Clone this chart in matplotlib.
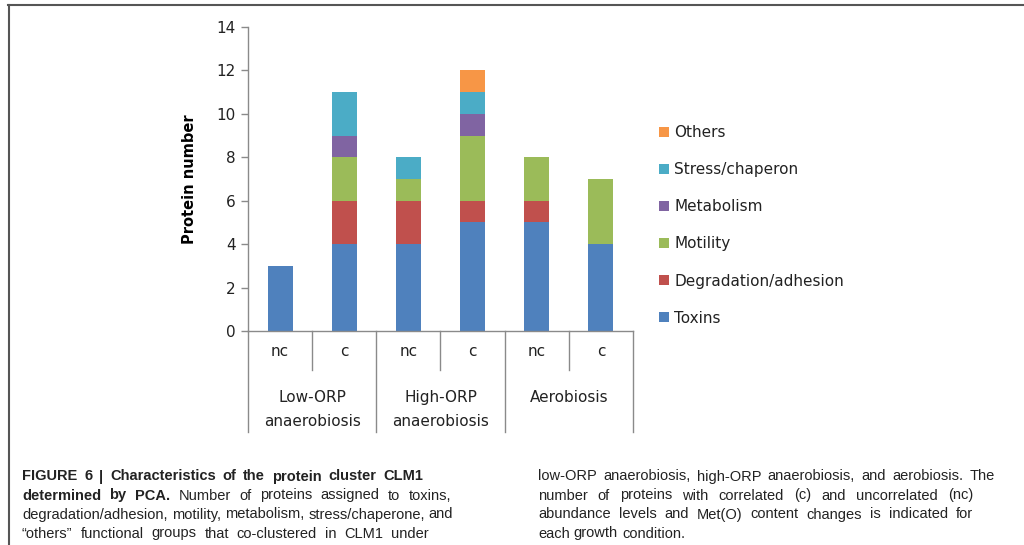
import matplotlib
matplotlib.use("Agg")
import matplotlib.pyplot as plt
import matplotlib.transforms as mtransforms
from matplotlib import font_manager
from matplotlib.lines import Line2D
import numpy as np

# data
bar_labels = ["nc", "c", "nc", "c", "nc", "c"]
group_labels = ["Low-ORP\nanaerobiosis", "High-ORP\nanaerobiosis", "Aerobiosis"]
series_names = ["Toxins", "Degradation/adhesion", "Motility", "Metabolism",
                "Stress/chaperon", "Others"]
toxins = [3, 4, 4, 5, 5, 4]
degradation = [0, 2, 2, 1, 1, 0]
motility = [0, 2, 1, 3, 2, 3]
metabolism = [0, 1, 0, 1, 0, 0]
stress = [0, 2, 1, 1, 0, 0]
others = [0, 0, 0, 1, 0, 0]
colors = ["#4F81BD", "#C0504D", "#9BBB59", "#8064A2", "#4BACC6", "#F79646"]

W, H = 1024, 545
fig = plt.figure(figsize=(W / 100, H / 100), dpi=100)
ax = fig.add_axes([248 / W, 1 - 331 / H, 385 / W, 304 / H])

x = np.arange(len(bar_labels))
bottom = np.zeros(len(x))
handles = []
for name, vals, col in zip(series_names,
                           [toxins, degradation, motility, metabolism, stress, others],
                           colors):
    vals = np.array(vals, dtype=float)
    b = ax.bar(x, vals, 0.39, bottom=bottom, color=col, label=name, zorder=2)
    handles.append(b)
    bottom += vals

gray = "#8a8a8a"
ax.set_xlim(-0.5, len(x) - 0.5)
ax.set_ylim(0, 14)
ax.set_yticks(range(0, 15, 2))
ax.tick_params(axis="y", length=5, width=1, color=gray, labelsize=11, pad=4,
               labelcolor="#222222")
ax.set_xticks([])
for s in ["top", "right"]:
    ax.spines[s].set_visible(False)
for s in ["left", "bottom"]:
    ax.spines[s].set_color(gray)
    ax.spines[s].set_linewidth(1)
ax.set_ylabel("Protein number", fontsize=10.5, fontweight="bold", labelpad=14)

# category axis with nested labels
trans = mtransforms.blended_transform_factory(ax.transData, ax.transAxes)
inner_y = -39 / 304
outer_y = -101 / 304
for i in range(len(x) + 1):
    xe = i - 0.5
    low = outer_y if i % 2 == 0 else inner_y
    ax.add_line(Line2D([xe, xe], [0, low], transform=trans, color=gray,
                       lw=1, clip_on=False))
for i, lab in enumerate(bar_labels):
    ax.text(i, -21 / 304, lab, transform=trans, ha="center", va="center",
            fontsize=11, color="#222222")
for g, lab in enumerate(group_labels):
    ax.text(2 * g + 0.5, -59 / 304, lab, transform=trans, ha="center", va="top",
            fontsize=11, color="#222222", linespacing=1.75)

# legend (reversed order, as in the original)
leg = fig.legend(handles[::-1], series_names[::-1], loc="upper left",
                 bbox_to_anchor=(659 / W, 1 - 125 / H), frameon=False,
                 fontsize=11, handlelength=0.65, handleheight=0.65,
                 handletextpad=0.35, labelspacing=1.45, borderpad=0,
                 borderaxespad=0)
for t in leg.get_texts():
    t.set_color("#222222")

# frame lines of the figure panel
fig.add_artist(Line2D([8 / W, 1], [1 - 5 / H, 1 - 5 / H], transform=fig.transFigure,
                      color="#555555", lw=1.5))
fig.add_artist(Line2D([8.5 / W, 8.5 / W], [0, 1 - 5 / H], transform=fig.transFigure,
                      color="#555555", lw=1.5))

# caption
cap_font = "Liberation Sans"
cap_size = 10.5
try:
    font_manager.findfont("Liberation Sans Narrow", fallback_to_default=False)
    cap_font = "Liberation Sans Narrow"
    cap_size = 12.5
except Exception:
    pass

renderer = fig.canvas.get_renderer()


def caption_line(words, x0, x1, y, justify=True):
    txts = []
    for w, bold in words:
        txts.append(fig.text(0, 1 - (y + 4.5) / H, w, fontsize=cap_size,
                             family=cap_font,
                             fontweight="bold" if bold else "normal",
                             va="baseline", ha="left", color="#222222"))
    widths = [t.get_window_extent(renderer).width for t in txts]
    sp = fig.text(0, 0, "a a", fontsize=cap_size, family=cap_font)
    sp2 = fig.text(0, 0, "aa", fontsize=cap_size, family=cap_font)
    nat = sp.get_window_extent(renderer).width - sp2.get_window_extent(renderer).width
    sp.remove()
    sp2.remove()
    gap = nat
    if justify and len(txts) > 1:
        gap = max(nat, (x1 - x0 - sum(widths)) / (len(txts) - 1))
    xc = x0
    for t, wd in zip(txts, widths):
        t.set_x(xc / W)
        xc += wd + gap


def words_of(s, bold=False):
    return [(w, bold) for w in s.split()]


left_lines = [
    (words_of("FIGURE 6 | Characteristics of the protein cluster CLM1", True), 423, True),
    (words_of("determined by PCA.", True) +
     words_of("Number of proteins assigned to toxins,"), 451, True),
    (words_of("degradation/adhesion, motility, metabolism, stress/chaperone, and"), 453, True),
    (words_of("\u201cothers\u201d functional groups that co-clustered in CLM1 under"), 429, True),
]
right_lines = [
    (words_of("low-ORP anaerobiosis, high-ORP anaerobiosis, and aerobiosis. The"), 995, True),
    (words_of("number of proteins with correlated (c) and uncorrelated (nc)"), 973, True),
    (words_of("abundance levels and Met(O) content changes is indicated for"), 973, True),
    (words_of("each growth condition."), 0, False),
]
line_y = [476, 495, 514, 533]
for (ws, xe, j), yy in zip(left_lines, line_y):
    caption_line(ws, 22, xe, yy, j)
for (ws, xe, j), yy in zip(right_lines, line_y):
    caption_line(ws, 538, xe, yy, j)

fig.savefig("out.png", dpi=100, facecolor="white")
